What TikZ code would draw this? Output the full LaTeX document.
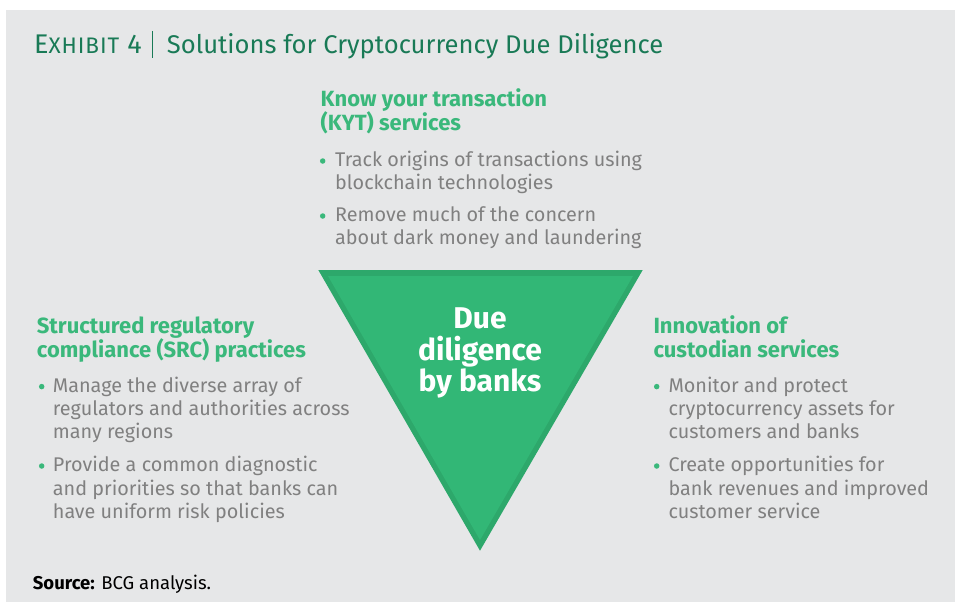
\documentclass[tikz,border=0pt]{standalone}
\usepackage{fontspec}
\setmainfont{Fira Sans}
\definecolor{bggray}{HTML}{E6E7E8}
\definecolor{hdgreen}{HTML}{3AB87B}
\definecolor{bodygray}{HTML}{808080}
\definecolor{titlegreen}{HTML}{197A56}
\definecolor{triouter}{HTML}{2DA86B}
\definecolor{triinner}{HTML}{32B776}
\begin{document}
\begin{tikzpicture}[x=1pt,y=-1pt,
  hd/.style={anchor=base west, inner sep=0pt, text=hdgreen, font=\fontsize{22}{24}\selectfont\bfseries},
  bd/.style={anchor=base west, inner sep=0pt, text=bodygray, font=\fontsize{19.8}{23}\selectfont},
  bul/.style={circle, fill=hdgreen, inner sep=0pt, minimum size=5.5pt},
  tri/.style={anchor=base, inner sep=0pt, text=white, font=\fontsize{30}{33}\selectfont\bfseries},
  ttl/.style={anchor=base west, inner sep=0pt, text=titlegreen, font=\fontsize{25.6}{30}\selectfont}]
\useasboundingbox (0,0) rectangle (955,602);
\fill[white] (0,0) rectangle (955,602);
\fill[bggray] (6,10) rectangle (955,602);
% title
\node[ttl, font=\fontsize{27}{30}\selectfont\addfontfeature{LetterSpace=4}] (t1) at (34,53.3) {E{\fontsize{22.5}{24}\selectfont XHIBIT} 4};
\coordinate (bar1) at (152.7,31);
\coordinate (bar2) at (152.7,58.3);
\draw[titlegreen, line width=1.2pt] (bar1) -- (bar2);
\node[ttl] (t2) at (166.7,53.3) {Solutions for Cryptocurrency Due Diligence};
% triangle
\fill[triouter] (318.3,270) -- (642.7,270) -- (480,550.7) -- cycle;
\fill[triinner] (328,276) -- (633,276) -- (480,540) -- cycle;
\node[tri] (d1) at (480,328.3) {Due};
\node[tri] (d2) at (480,360) {diligence};
\node[tri] (d3) at (480,391.7) {by banks};
% top block
\node[hd] (k1) at (320.5,106.7) {Know your transaction};
\node[hd] (k2) at (320.5,130) {(KYT) services};
\node[bul] (kb1) at (322.7,161) {};
\node[bd] (k3) at (335,166.7) {Track origins of transactions using};
\node[bd] (k4) at (335,189.5) {blockchain technologies};
\node[bul] (kb2) at (322.7,216) {};
\node[bd] (k5) at (335,221.7) {Remove much of the concern};
\node[bd] (k6) at (335,244.5) {about dark money and laundering};
% left block
\node[hd] (s1) at (36.7,333.3) {Structured regulatory};
\node[hd] (s2) at (36.7,357.7) {compliance (SRC) practices};
\node[bul] (sb1) at (41.7,386.6) {};
\node[bd] (s3) at (52.7,392.3) {Manage the diverse array of};
\node[bd] (s4) at (52.7,415.3) {regulators and authorities across};
\node[bd] (s5) at (52.7,438.3) {many regions};
\node[bul] (sb2) at (41.7,466) {};
\node[bd] (s6) at (52.7,471.7) {Provide a common diagnostic};
\node[bd] (s7) at (52.7,495) {and priorities so that banks can};
\node[bd] (s8) at (52.7,518.3) {have uniform risk policies};
% right block
\node[hd] (c1) at (653.3,333.3) {Innovation of};
\node[hd] (c2) at (653.3,357.7) {custodian services};
\node[bul] (cb1) at (656.7,386.6) {};
\node[bd] (c3) at (668.3,392.3) {Monitor and protect};
\node[bd] (c4) at (668.3,415.3) {cryptocurrency assets for};
\node[bd] (c5) at (668.3,438.3) {customers and banks};
\node[bul] (cb2) at (656.7,466) {};
\node[bd] (c6) at (668.3,471.7) {Create opportunities for};
\node[bd] (c7) at (668.3,495) {bank revenues and improved};
\node[bd] (c8) at (668.3,518.3) {customer service};
% source
\node[anchor=base west, inner sep=0pt, font=\fontsize{18.5}{21}\selectfont, text=black] (src) at (32.7,589) {\textbf{Source:} BCG analysis.};
\end{tikzpicture}
\end{document}
